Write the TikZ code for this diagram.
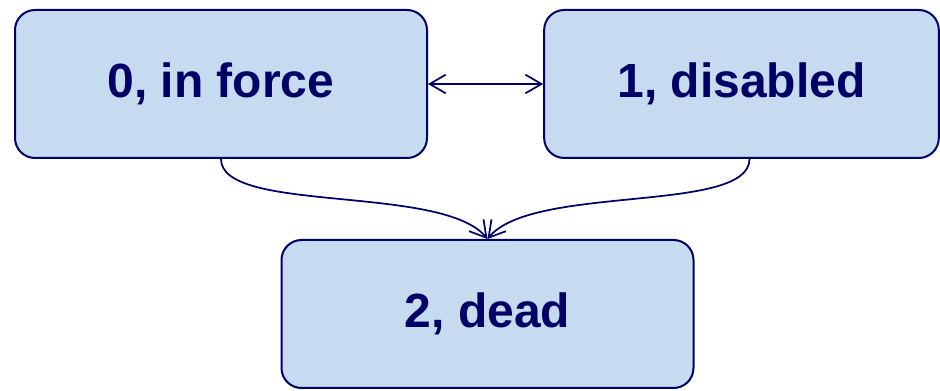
\documentclass[tikz,border=0pt]{standalone}
\usepackage{fontspec}
\setmainfont{Liberation Sans}
\usepackage{xcolor}
\usetikzlibrary{arrows.meta}
\definecolor{boxfill}{RGB}{198,219,239}
\definecolor{navy}{RGB}{0,0,102}
\tikzset{
	statebox/.style={
			draw=navy, fill=boxfill, line width=1.5pt, rounded corners=15pt,
			minimum width=309pt, minimum height=111pt, text=navy,
			font=\fontsize{36}{40}\selectfont\bfseries
		},
	link/.style={
			draw=navy, line width=1.3pt,
			arrows={-Straight Barb[length=12pt,width=14pt]}
		}
}

\begin{document}
\begin{tikzpicture}[x=0.75pt,y=-0.75pt]
        \useasboundingbox (0,0) rectangle (940,391);
        \node[statebox] (s_force) at (221, 84) {0, in force};
        \node[statebox,minimum width=296pt] (s_disabled) at (741.5, 84) {1, disabled};
        \node[statebox] (s_dead) at (487.5, 314) {2, dead};
        \draw[link,arrows={Straight Barb[length=12pt,width=14pt]-Straight Barb[length=12pt,width=14pt]}] (s_force) -- (s_disabled);
        \draw[link] (s_force.south) .. controls +(0,55) and +(-45,-55) .. (s_dead.north);
        \draw[link] ([xshift=6pt]s_disabled.south) .. controls +(0,55) and +(45,-55) .. (s_dead.north);
    \end{tikzpicture}
\end{document}
